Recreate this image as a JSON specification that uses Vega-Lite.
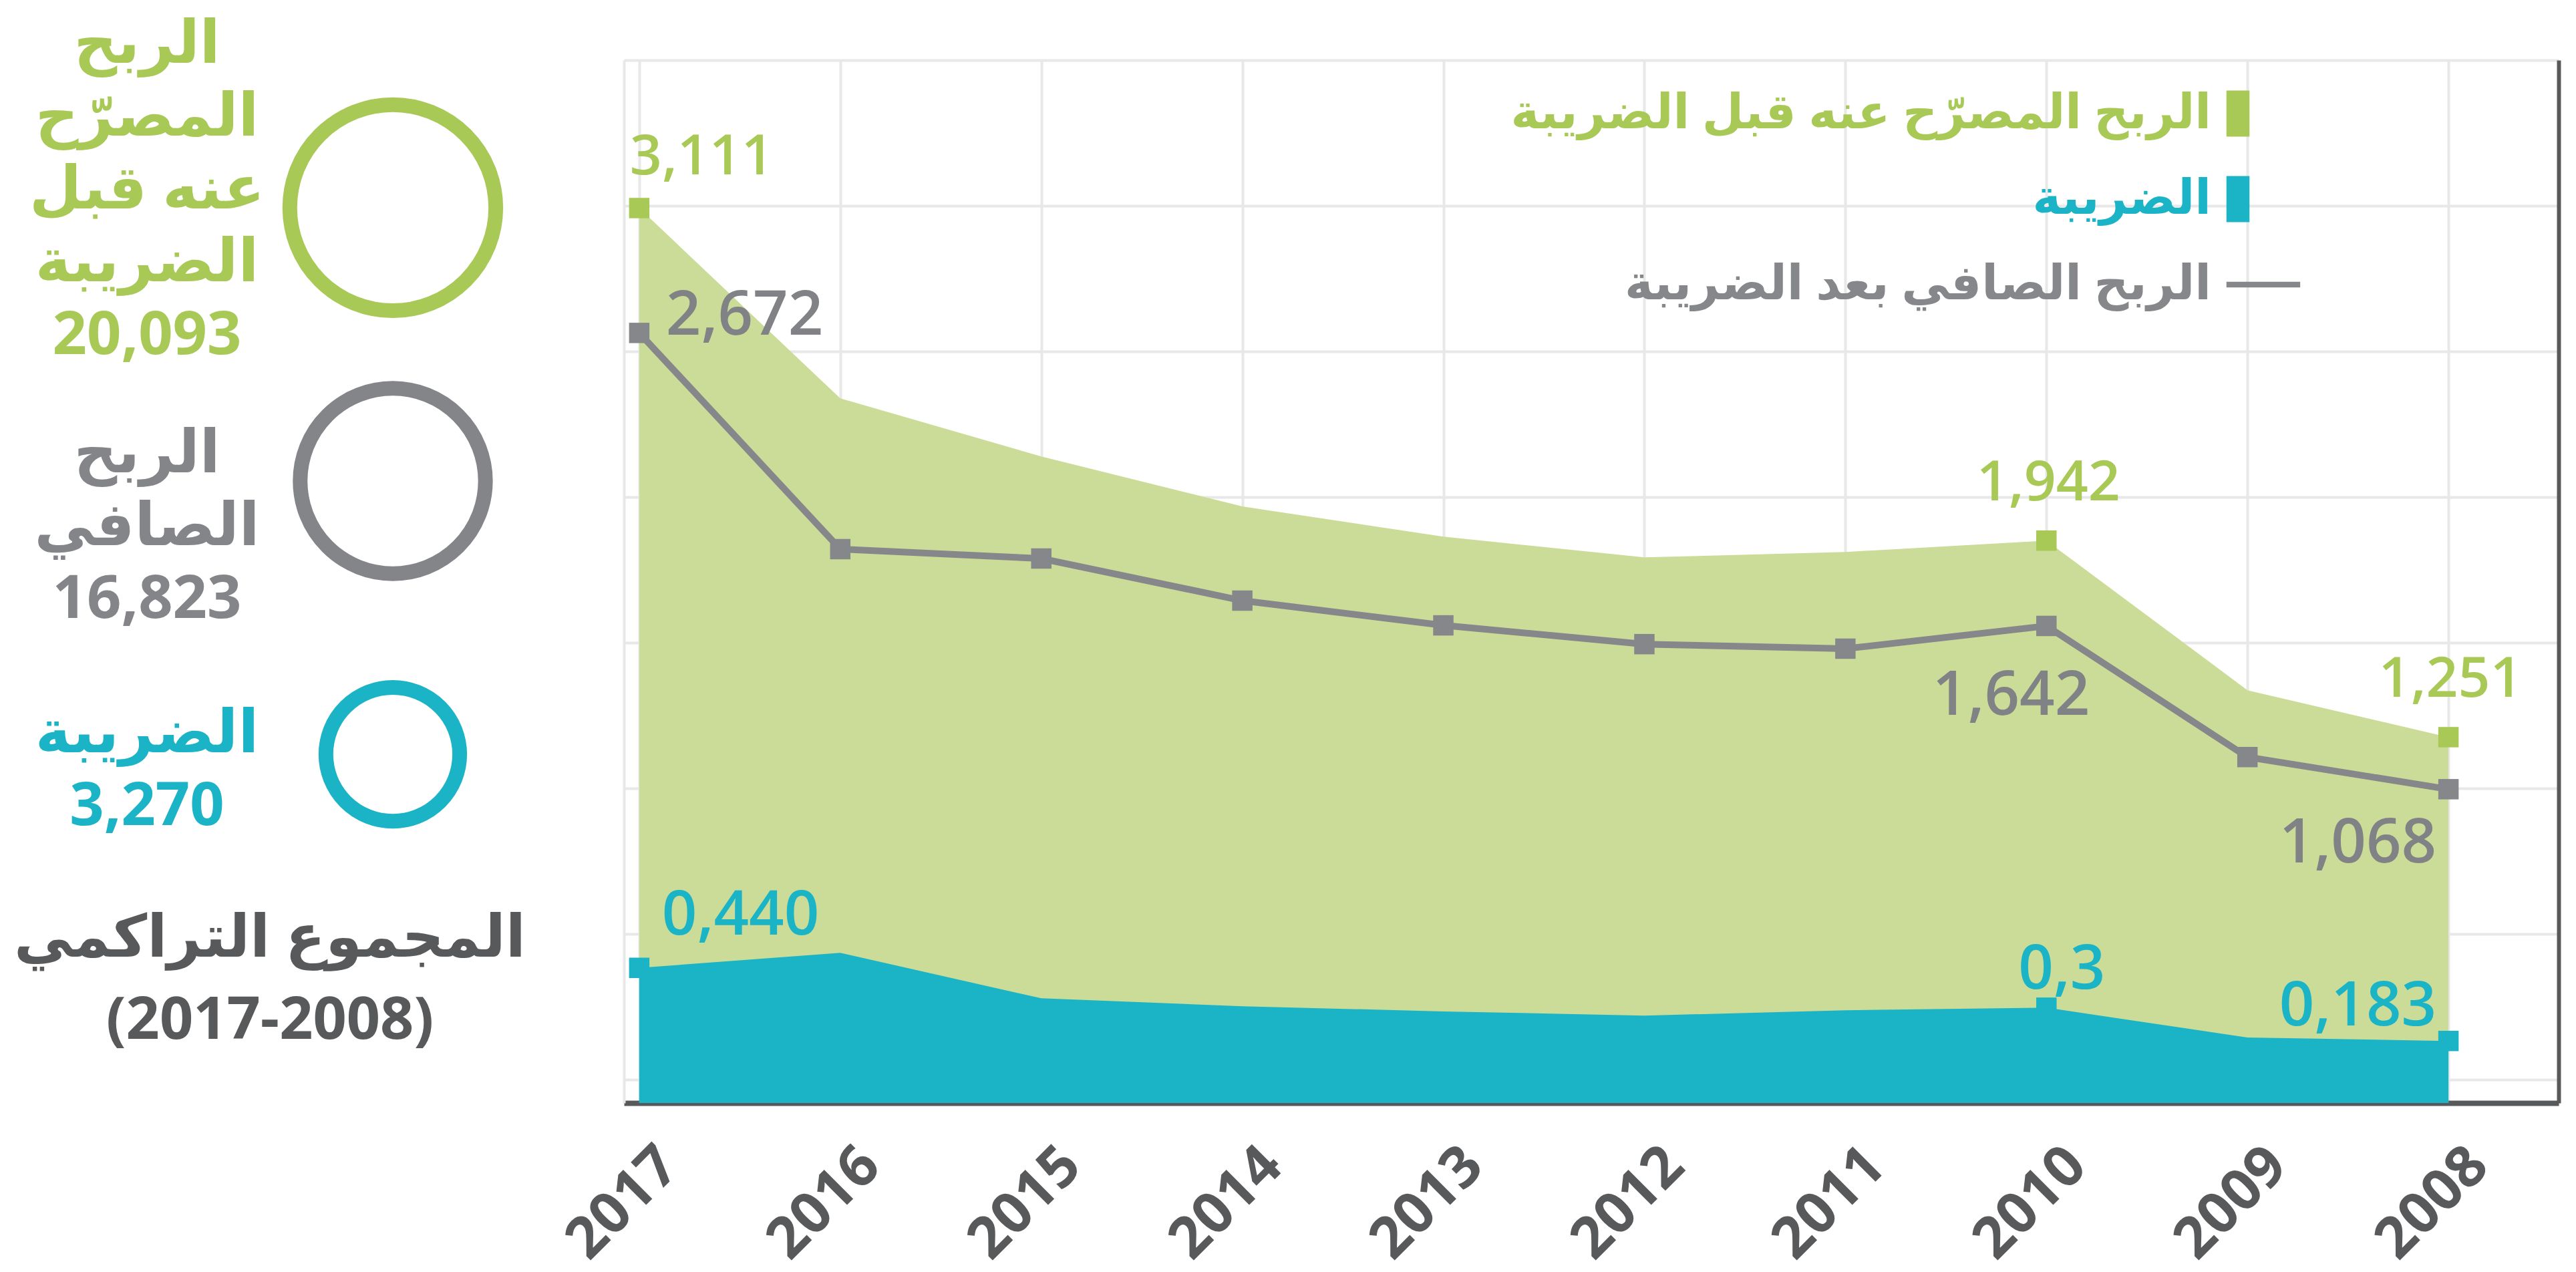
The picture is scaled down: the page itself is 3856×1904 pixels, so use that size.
{
  "$schema": "https://vega.github.io/schema/vega-lite/v6.json",
  "background": "white",
  "padding": {"left": 0, "top": 21, "right": 10, "bottom": 10},
  "bounds": "flush",
  "spacing": 126,
  "config": {"view": {"stroke": null}},
  "resolve": {
    "scale": {"color": "independent", "size": "independent", "x": "independent", "y": "independent"},
    "legend": {"color": "independent", "size": "independent"}
  },
  "hconcat": [
    {
      "width": 808,
      "height": 1260,
      "data": {
        "values": [
          {"metric": "الربح المصرّح عنه قبل الضريبة", "total": 20093, "lines": "الربح\nالمصرّح\nعنه قبل\nالضريبة\n20,093"},
          {"metric": "الربح الصافي", "total": 16823, "lines": "الربح\nالصافي\n16,823"},
          {"metric": "الضريبة", "total": 3270, "lines": "الضريبة\n3,270"}
        ]
      },
      "title": {
        "text": ["المجموع التراكمي", "(2017-2008)"],
        "orient": "bottom",
        "anchor": "middle",
        "font": "Open Sans, DejaVu Sans",
        "fontSize": 88,
        "fontWeight": "bold",
        "color": "#58595B",
        "lineHeight": 123,
        "offset": 12
      },
      "encoding": {
        "y": {"field": "metric", "type": "nominal", "sort": null, "scale": {"type": "point", "padding": 0.54}, "axis": null},
        "color": {
          "field": "metric", "type": "nominal", "sort": null,
          "scale": {"domain": ["الربح المصرّح عنه قبل الضريبة", "الربح الصافي", "الضريبة"], "range": ["#A8C956", "#848589", "#1BB4C6"]},
          "legend": null
        }
      },
      "layer": [
        {
          "mark": {"type": "point", "shape": "circle", "filled": false, "strokeWidth": 22, "opacity": 1},
          "encoding": {
            "x": {"datum": "circle", "type": "nominal", "scale": {"type": "point", "domain": ["label", "circle"], "padding": 0.598}, "axis": null},
            "size": {"field": "total", "type": "quantitative", "scale": {"type": "linear", "domain": [3270, 16823, 20093], "range": [40115, 76944, 95115]}, "legend": null}
          }
        },
        {
          "transform": [{"filter": {"field": "metric", "equal": "الربح المصرّح عنه قبل الضريبة"}}],
          "mark": {"type": "text", "lineBreak": "\n", "font": "Open Sans, DejaVu Sans", "fontSize": 90, "lineHeight": 109, "fontWeight": "bold", "align": "center", "baseline": "middle", "dy": -244},
          "encoding": {"x": {"datum": "label", "type": "nominal", "axis": null}, "text": {"field": "lines"}}
        },
        {
          "transform": [{"filter": {"field": "metric", "equal": "الربح الصافي"}}],
          "mark": {"type": "text", "lineBreak": "\n", "font": "Open Sans, DejaVu Sans", "fontSize": 90, "lineHeight": 109, "fontWeight": "bold", "align": "center", "baseline": "middle", "dy": -40},
          "encoding": {"x": {"datum": "label", "type": "nominal", "axis": null}, "text": {"field": "lines"}}
        },
        {
          "transform": [{"filter": {"field": "metric", "equal": "الضريبة"}}],
          "mark": {"type": "text", "lineBreak": "\n", "font": "Open Sans, DejaVu Sans", "fontSize": 90, "lineHeight": 109, "fontWeight": "bold", "align": "center", "baseline": "middle", "dy": -30},
          "encoding": {"x": {"datum": "label", "type": "nominal", "axis": null}, "text": {"field": "lines"}}
        }
      ]
    },
    {
      "width": 2896,
      "height": 1561,
      "data": {
        "values": [
          {"year": 2017, "series": "الربح المصرّح عنه قبل الضريبة", "value": 3.111, "label": "3,111"},
          {"year": 2016, "series": "الربح المصرّح عنه قبل الضريبة", "value": 2.442},
          {"year": 2015, "series": "الربح المصرّح عنه قبل الضريبة", "value": 2.238},
          {"year": 2014, "series": "الربح المصرّح عنه قبل الضريبة", "value": 2.062},
          {"year": 2013, "series": "الربح المصرّح عنه قبل الضريبة", "value": 1.956},
          {"year": 2012, "series": "الربح المصرّح عنه قبل الضريبة", "value": 1.883},
          {"year": 2011, "series": "الربح المصرّح عنه قبل الضريبة", "value": 1.902},
          {"year": 2010, "series": "الربح المصرّح عنه قبل الضريبة", "value": 1.942, "label": "1,942"},
          {"year": 2009, "series": "الربح المصرّح عنه قبل الضريبة", "value": 1.416},
          {"year": 2008, "series": "الربح المصرّح عنه قبل الضريبة", "value": 1.251, "label": "1,251"},
          {"year": 2017, "series": "الضريبة", "value": 0.44, "label": "0,440"},
          {"year": 2016, "series": "الضريبة", "value": 0.493},
          {"year": 2015, "series": "الضريبة", "value": 0.333},
          {"year": 2014, "series": "الضريبة", "value": 0.305},
          {"year": 2013, "series": "الضريبة", "value": 0.287},
          {"year": 2012, "series": "الضريبة", "value": 0.272},
          {"year": 2011, "series": "الضريبة", "value": 0.291},
          {"year": 2010, "series": "الضريبة", "value": 0.3, "label": "0,3"},
          {"year": 2009, "series": "الضريبة", "value": 0.195},
          {"year": 2008, "series": "الضريبة", "value": 0.183, "label": "0,183"},
          {"year": 2017, "series": "الربح الصافي بعد الضريبة", "value": 2.672, "label": "2,672"},
          {"year": 2016, "series": "الربح الصافي بعد الضريبة", "value": 1.912},
          {"year": 2015, "series": "الربح الصافي بعد الضريبة", "value": 1.879},
          {"year": 2014, "series": "الربح الصافي بعد الضريبة", "value": 1.731},
          {"year": 2013, "series": "الربح الصافي بعد الضريبة", "value": 1.644},
          {"year": 2012, "series": "الربح الصافي بعد الضريبة", "value": 1.578},
          {"year": 2011, "series": "الربح الصافي بعد الضريبة", "value": 1.562},
          {"year": 2010, "series": "الربح الصافي بعد الضريبة", "value": 1.642, "label": "1,642"},
          {"year": 2009, "series": "الربح الصافي بعد الضريبة", "value": 1.181},
          {"year": 2008, "series": "الربح الصافي بعد الضريبة", "value": 1.068, "label": "1,068"}
        ]
      },
      "resolve": {"axis": {"y": "independent"}},
      "encoding": {
        "x": {
          "field": "year", "type": "quantitative",
          "scale": {"domain": [2007.452, 2017.076], "reverse": true, "nice": false, "zero": false},
          "axis": {
            "title": null,
            "values": [2017, 2016, 2015, 2014, 2013, 2012, 2011, 2010, 2009, 2008],
            "format": "d",
            "labelAngle": -45, "labelAlign": "right", "labelBaseline": "middle",
            "labelFont": "Open Sans", "labelFontSize": 86, "labelFontWeight": "bold", "labelColor": "#58595B",
            "labelPadding": 80, "labelOffset": 45, "labelLimit": 0,
            "ticks": false, "tickSize": 0,
            "domainColor": "#58595B", "domainWidth": 8,
            "grid": true, "gridColor": "#E8E8E8", "gridWidth": 4,
            "labelFlush": false, "labelOverlap": false, "labelBound": false
          }
        }
      },
      "layer": [
        {
          "transform": [{"filter": {"field": "series", "equal": "الربح المصرّح عنه قبل الضريبة"}}],
          "mark": {"type": "area", "color": "#CBDC98", "opacity": 1},
          "encoding": {
            "y": {
              "field": "value", "type": "quantitative",
              "scale": {"domain": [-0.035, 3.631], "nice": false, "zero": false},
              "axis": {"orient": "left", "values": [0.047, 0.559, 1.071, 1.583, 2.095, 2.607, 3.119, 3.631], "labels": false, "ticks": false, "title": null, "grid": true, "gridColor": "#E8E8E8", "gridWidth": 4, "domainColor": "#E8E8E8", "domainWidth": 4}
            },
            "y2": {"datum": -0.035}
          }
        },
        {
          "transform": [{"filter": {"field": "series", "equal": "الضريبة"}}],
          "mark": {"type": "area", "color": "#1BB4C6", "opacity": 1},
          "encoding": {
            "y": {
              "field": "value", "type": "quantitative",
              "axis": {"orient": "right", "labels": false, "ticks": false, "title": null, "grid": false, "domainColor": "#58595B", "domainWidth": 6, "zindex": 1}
            },
            "y2": {"datum": -0.035}
          }
        },
        {
          "transform": [{"filter": {"field": "series", "equal": "الربح الصافي بعد الضريبة"}}],
          "mark": {"type": "line", "strokeWidth": 10},
          "encoding": {
            "y": {"field": "value", "type": "quantitative", "axis": null},
            "color": {
              "field": "series", "type": "nominal",
              "scale": {"domain": ["الربح المصرّح عنه قبل الضريبة", "الضريبة", "الربح الصافي بعد الضريبة"], "range": ["#A8C956", "#1BB4C6", "#86878B"]},
              "legend": {
                "orient": "none", "legendX": 2380, "legendY": 44,
                "title": null, "padding": 0,
                "symbolSize": 4761, "symbolStrokeWidth": 0,
                "labelFont": "Open Sans, DejaVu Sans", "labelFontSize": 72, "labelFontWeight": "bold",
                "labelAlign": "right", "labelOffset": -76, "labelLimit": 0,
                "rowPadding": 56,
                "encode": {
                  "symbols": {"update": {
                    "shape": {"signal": "datum.value === 'الربح الصافي بعد الضريبة' ? 'M-0.5,-0.12H2.7V0.12H-0.5Z' : 'M-0.5,-1H0.5V1H-0.5Z'"},
                    "fill": {"signal": "datum.value === 'الضريبة' ? '#1BB4C6' : datum.value === 'الربح الصافي بعد الضريبة' ? '#86878B' : '#A8C956'"},
                    "stroke": {"value": "transparent"},
                    "strokeWidth": {"value": 0},
                    "opacity": {"value": 1}
                  }},
                  "labels": {"update": {
                    "fill": {"signal": "datum.value === 'الضريبة' ? '#1BB4C6' : datum.value === 'الربح الصافي بعد الضريبة' ? '#86878B' : '#A8C956'"}
                  }}
                }
              }
            }
          }
        },
        {
          "transform": [{"filter": "datum.series === 'الربح الصافي بعد الضريبة' || isValid(datum.label)"}],
          "mark": {"type": "point", "shape": "square", "filled": true, "size": 930, "opacity": 1},
          "encoding": {
            "y": {"field": "value", "type": "quantitative", "axis": null},
            "color": {"field": "series", "type": "nominal"}
          }
        },
        {
          "transform": [{"filter": {"field": "label", "oneOf": ["3,111"]}}],
          "mark": {"type": "text", "font": "Open Sans", "fontWeight": 600, "fontSize": 84, "color": "#A8C956", "align": "left", "baseline": "alphabetic", "dx": -14, "dy": -50},
          "encoding": {"y": {"field": "value", "type": "quantitative", "axis": null}, "text": {"field": "label"}}
        },
        {
          "transform": [{"filter": {"field": "label", "oneOf": ["1,942", "1,251"]}}],
          "mark": {"type": "text", "font": "Open Sans", "fontWeight": 600, "fontSize": 84, "color": "#A8C956", "align": "center", "baseline": "alphabetic", "dx": 3, "dy": -60},
          "encoding": {"y": {"field": "value", "type": "quantitative", "axis": null}, "text": {"field": "label"}}
        },
        {
          "transform": [{"filter": {"field": "label", "oneOf": ["2,672"]}}],
          "mark": {"type": "text", "font": "Open Sans", "fontWeight": 600, "fontSize": 92, "color": "#808285", "align": "left", "baseline": "alphabetic", "dx": 40, "dy": 3},
          "encoding": {"y": {"field": "value", "type": "quantitative", "axis": null}, "text": {"field": "label"}}
        },
        {
          "transform": [{"filter": {"field": "label", "oneOf": ["1,642"]}}],
          "mark": {"type": "text", "font": "Open Sans", "fontWeight": 600, "fontSize": 92, "color": "#808285", "align": "right", "baseline": "alphabetic", "dx": 65, "dy": 133},
          "encoding": {"y": {"field": "value", "type": "quantitative", "axis": null}, "text": {"field": "label"}}
        },
        {
          "transform": [{"filter": {"field": "label", "oneOf": ["1,068"]}}],
          "mark": {"type": "text", "font": "Open Sans", "fontWeight": 600, "fontSize": 92, "color": "#808285", "align": "right", "baseline": "alphabetic", "dx": -18, "dy": 110},
          "encoding": {"y": {"field": "value", "type": "quantitative", "axis": null}, "text": {"field": "label"}}
        },
        {
          "transform": [{"filter": {"field": "label", "oneOf": ["0,440"]}}],
          "mark": {"type": "text", "font": "Open Sans", "fontWeight": 600, "fontSize": 92, "color": "#1BB4C6", "align": "left", "baseline": "alphabetic", "dx": 34, "dy": -50},
          "encoding": {"y": {"field": "value", "type": "quantitative", "axis": null}, "text": {"field": "label"}}
        },
        {
          "transform": [{"filter": {"field": "label", "oneOf": ["0,3"]}}],
          "mark": {"type": "text", "font": "Open Sans", "fontWeight": 600, "fontSize": 92, "color": "#1BB4C6", "align": "center", "baseline": "alphabetic", "dx": 23, "dy": -28},
          "encoding": {"y": {"field": "value", "type": "quantitative", "axis": null}, "text": {"field": "label"}}
        },
        {
          "transform": [{"filter": {"field": "label", "oneOf": ["0,183"]}}],
          "mark": {"type": "text", "font": "Open Sans", "fontWeight": 600, "fontSize": 92, "color": "#1BB4C6", "align": "right", "baseline": "alphabetic", "dx": -18, "dy": -23},
          "encoding": {"y": {"field": "value", "type": "quantitative", "axis": null}, "text": {"field": "label"}}
        }
      ]
    }
  ]
}
